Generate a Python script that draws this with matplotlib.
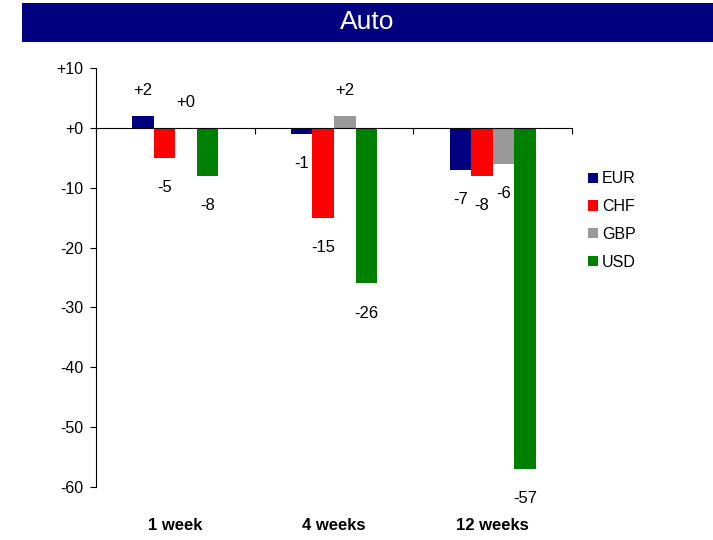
"""
Auto: currency bar chart by horizon
"""
import matplotlib
matplotlib.use('Agg')
import matplotlib.pyplot as plt
import matplotlib.patches as patches
import matplotlib.transforms as transforms
import numpy as np

plt.rcParams['font.family'] = ['Liberation Sans', 'DejaVu Sans']

horizons = ['1 week', '4 weeks', '12 weeks']
currencies = ['EUR', 'CHF', 'GBP', 'USD']
eur = [2, -1, -7]
chf = [-5, -15, -8]
gbp = [0, 2, -6]
usd = [-8, -26, -57]
colors = ['#000080', '#FF0000', '#999999', '#008000']
yticks = [10, 0, -10, -20, -30, -40, -50, -60]

fig = plt.figure(figsize=(7.13, 5.4), dpi=100)

# title banner
fig.patches.append(patches.Rectangle((22 / 713, 1 - 42 / 540), 1 - 22 / 713, 39 / 540,
                                     transform=fig.transFigure, facecolor='#000080',
                                     edgecolor='none', zorder=0))
fig.text(367.5 / 713, 1 - 22 / 540, 'Auto', color='white', fontsize=19,
         ha='center', va='center')

ax = fig.add_axes([96 / 713, 1 - 487 / 540, (572 - 96) / 713, (487 - 68) / 540])

series = [eur, chf, gbp, usd]
bw = 0.136
x = np.arange(len(horizons)) + 0.5
for i, (name, vals, col) in enumerate(zip(currencies, series, colors)):
    pos = x + (i - 1.5) * bw
    ax.bar(pos, vals, width=bw, color=col, label=name, zorder=2)
    for p, v in zip(pos, vals):
        lbl = f'{v:+d}' if v != 0 else '+0'
        off = 18 if v >= 0 else -21.5
        ax.annotate(lbl, (p, v), xytext=(0, off), textcoords='offset points',
                    ha='center', va='center', fontsize=12)

ax.set_xlim(0, 3)
ax.set_ylim(-60, 10)
ax.set_yticks(yticks)
ax.set_yticklabels([f'{t:+d}' if t != 0 else '+0' for t in yticks], fontsize=11.5)
ax.set_xticks([0, 1, 2, 3])
ax.set_xticklabels([])
ax.tick_params(axis='x', direction='out', length=4)
ax.tick_params(axis='y', direction='out', length=4, pad=5)

ax.spines['top'].set_visible(False)
ax.spines['right'].set_visible(False)
ax.spines['bottom'].set_position(('data', 0))

trans = transforms.blended_transform_factory(ax.transData, fig.transFigure)
for xi, h in zip(x, horizons):
    ax.text(xi, 1 - 526 / 540, h, transform=trans, ha='center', va='center',
            fontsize=12, fontweight='bold')

leg = ax.legend(loc='upper left', bbox_to_anchor=(574 / 713, 1 - 157 / 540),
                bbox_transform=fig.transFigure, frameon=False, fontsize=11.5,
                handlelength=0.6, handleheight=0.6, handletextpad=0.25,
                labelspacing=0.8)

fig.savefig('out.png', dpi=100)
